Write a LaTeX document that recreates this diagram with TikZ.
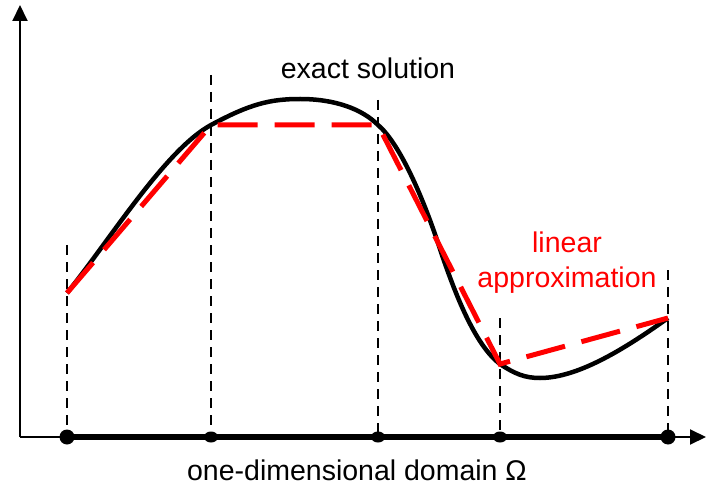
\documentclass[tikz,border=0pt]{standalone}
\usepackage{fontspec}
\setmainfont{Liberation Sans}
\usetikzlibrary{arrows.meta,shapes.geometric}
\begin{document}
\begin{tikzpicture}[x=1pt,y=-1pt,
  axis/.style={line width=2pt,-{Triangle[length=16pt,width=15pt]}},
  guide/.style={line width=1.8pt,dash pattern=on 10pt off 7pt},
  approx/.style={red,line width=5pt,dash pattern=on 40pt off 17pt},
  exact/.style={line width=4.5pt},
  bigdot/.style={circle,fill,inner sep=0pt,minimum size=15pt},
  smalldot/.style={ellipse,fill,inner sep=0pt,minimum width=14pt,minimum height=11pt},
  lbl/.style={font=\fontsize{28.5}{35}\selectfont}]
\useasboundingbox (0,0) rectangle (706,494);
% axes
\coordinate (o) at (20,437);
\coordinate (ytop) at (20,5);
\coordinate (xend) at (706,437);
\draw[axis] (o) -- (ytop);
\draw[axis] (o) -- (xend);
% domain nodes
\coordinate (d1) at (67,437);
\coordinate (d2) at (211,437);
\coordinate (d3) at (378,437);
\coordinate (d4) at (500,437);
\coordinate (d5) at (668,437);
\draw[line width=5.5pt] (d1) -- (d5);
% guide tops
\coordinate (g1) at (67,245);
\coordinate (g2) at (211,75);
\coordinate (g3) at (378,100);
\coordinate (g4) at (500,318);
\coordinate (g5) at (668,270);
\foreach \i in {1,...,5} \draw[guide] (g\i) -- (d\i);
% solution points
\coordinate (p1) at (67,293);
\coordinate (p2) at (211,125);
\coordinate (p3) at (378,125);
\coordinate (p4) at (500,364);
\coordinate (p5) at (668,318);
\coordinate (top) at (300,99);
\coordinate (infl) at (437,240);
\coordinate (low) at (540,378);
\draw[exact] (p1) .. controls (110,240) and (165,150) .. (p2)
  .. controls (250,104) and (270,99) .. (top)
  .. controls (335,99) and (362,109) .. (p3)
  .. controls (398,142) and (420,190) .. (infl)
  .. controls (455,295) and (475,345) .. (p4)
  .. controls (515,374) and (525,378) .. (low)
  .. controls (580,378) and (630,345) .. (p5);
\draw[approx] (p1) -- (p2) -- (p3) -- (p4) -- (p5);
% dots
\node[bigdot] at (d1) {};
\node[bigdot] at (d5) {};
\node[smalldot] at (d2) {};
\node[smalldot] at (d3) {};
\node[smalldot] at (d4) {};
% labels
\node[lbl] (ex) at (368,68) {exact solution};
\node[lbl,red,align=center] (la) at (567,263) {linear\\approximation};
\node[lbl] (dom) at (357,470) {one-dimensional domain Ω};
\end{tikzpicture}
\end{document}
